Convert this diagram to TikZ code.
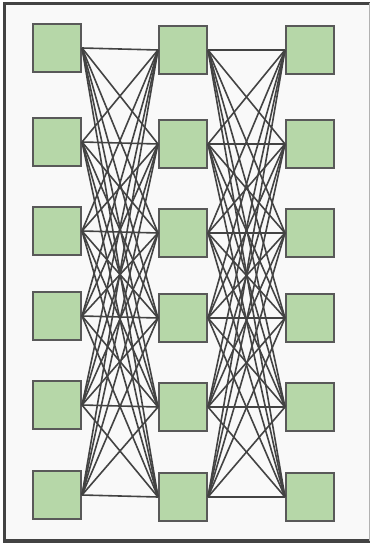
\documentclass[tikz,border=0pt]{standalone}
\usepackage{tikz}
\usetikzlibrary{positioning}
\definecolor{nnGreen}{HTML}{B6D7A8}
\definecolor{nnEdge}{HTML}{595959}
\definecolor{nnLine}{HTML}{434343}
\definecolor{nnPanel}{HTML}{F9F9F9}

\begin{document}
\begin{tikzpicture}[
  x=1pt, y=-1pt,
  unit/.style={draw=nnEdge, line width=1.8pt, fill=nnGreen, minimum size=48.2pt, inner sep=0pt},
  link/.style={draw=nnLine, line width=1.6pt},
  frame/.style={draw=nnLine, line width=3.2pt}
]
  \useasboundingbox (0,0) rectangle (371,543);
  \fill[nnPanel] (4.7,3.2) rectangle (369.5,541);
  \draw[frame] (369.5,3.2) -- (4.7,3.2) -- (4.7,541) -- (369.5,541);
  \draw[draw=gray!60, line width=0.8pt] (369.5,3.2) -- (369.5,541);

  % input layer
  \node[unit] (in1) at (57,48) {};
  \node[unit] (in2) at (57,142) {};
  \node[unit] (in3) at (57,231) {};
  \node[unit] (in4) at (57,316) {};
  \node[unit] (in5) at (57,405) {};
  \node[unit] (in6) at (57,495) {};

  % hidden layer
  \node[unit] (hid1) at (183,50) {};
  \node[unit] (hid2) at (183,144) {};
  \node[unit] (hid3) at (183,233) {};
  \node[unit] (hid4) at (183,318) {};
  \node[unit] (hid5) at (183,407) {};
  \node[unit] (hid6) at (183,497) {};

  % output layer
  \node[unit] (out1) at (310,50) {};
  \node[unit] (out2) at (310,144) {};
  \node[unit] (out3) at (310,233) {};
  \node[unit] (out4) at (310,318) {};
  \node[unit] (out5) at (310,407) {};
  \node[unit] (out6) at (310,497) {};

  \foreach \i in {1,...,6}
    \foreach \j in {1,...,6} {
      \draw[link] (in\i.east) -- (hid\j.west);
      \draw[link] (hid\i.east) -- (out\j.west);
    }
\end{tikzpicture}
\end{document}
